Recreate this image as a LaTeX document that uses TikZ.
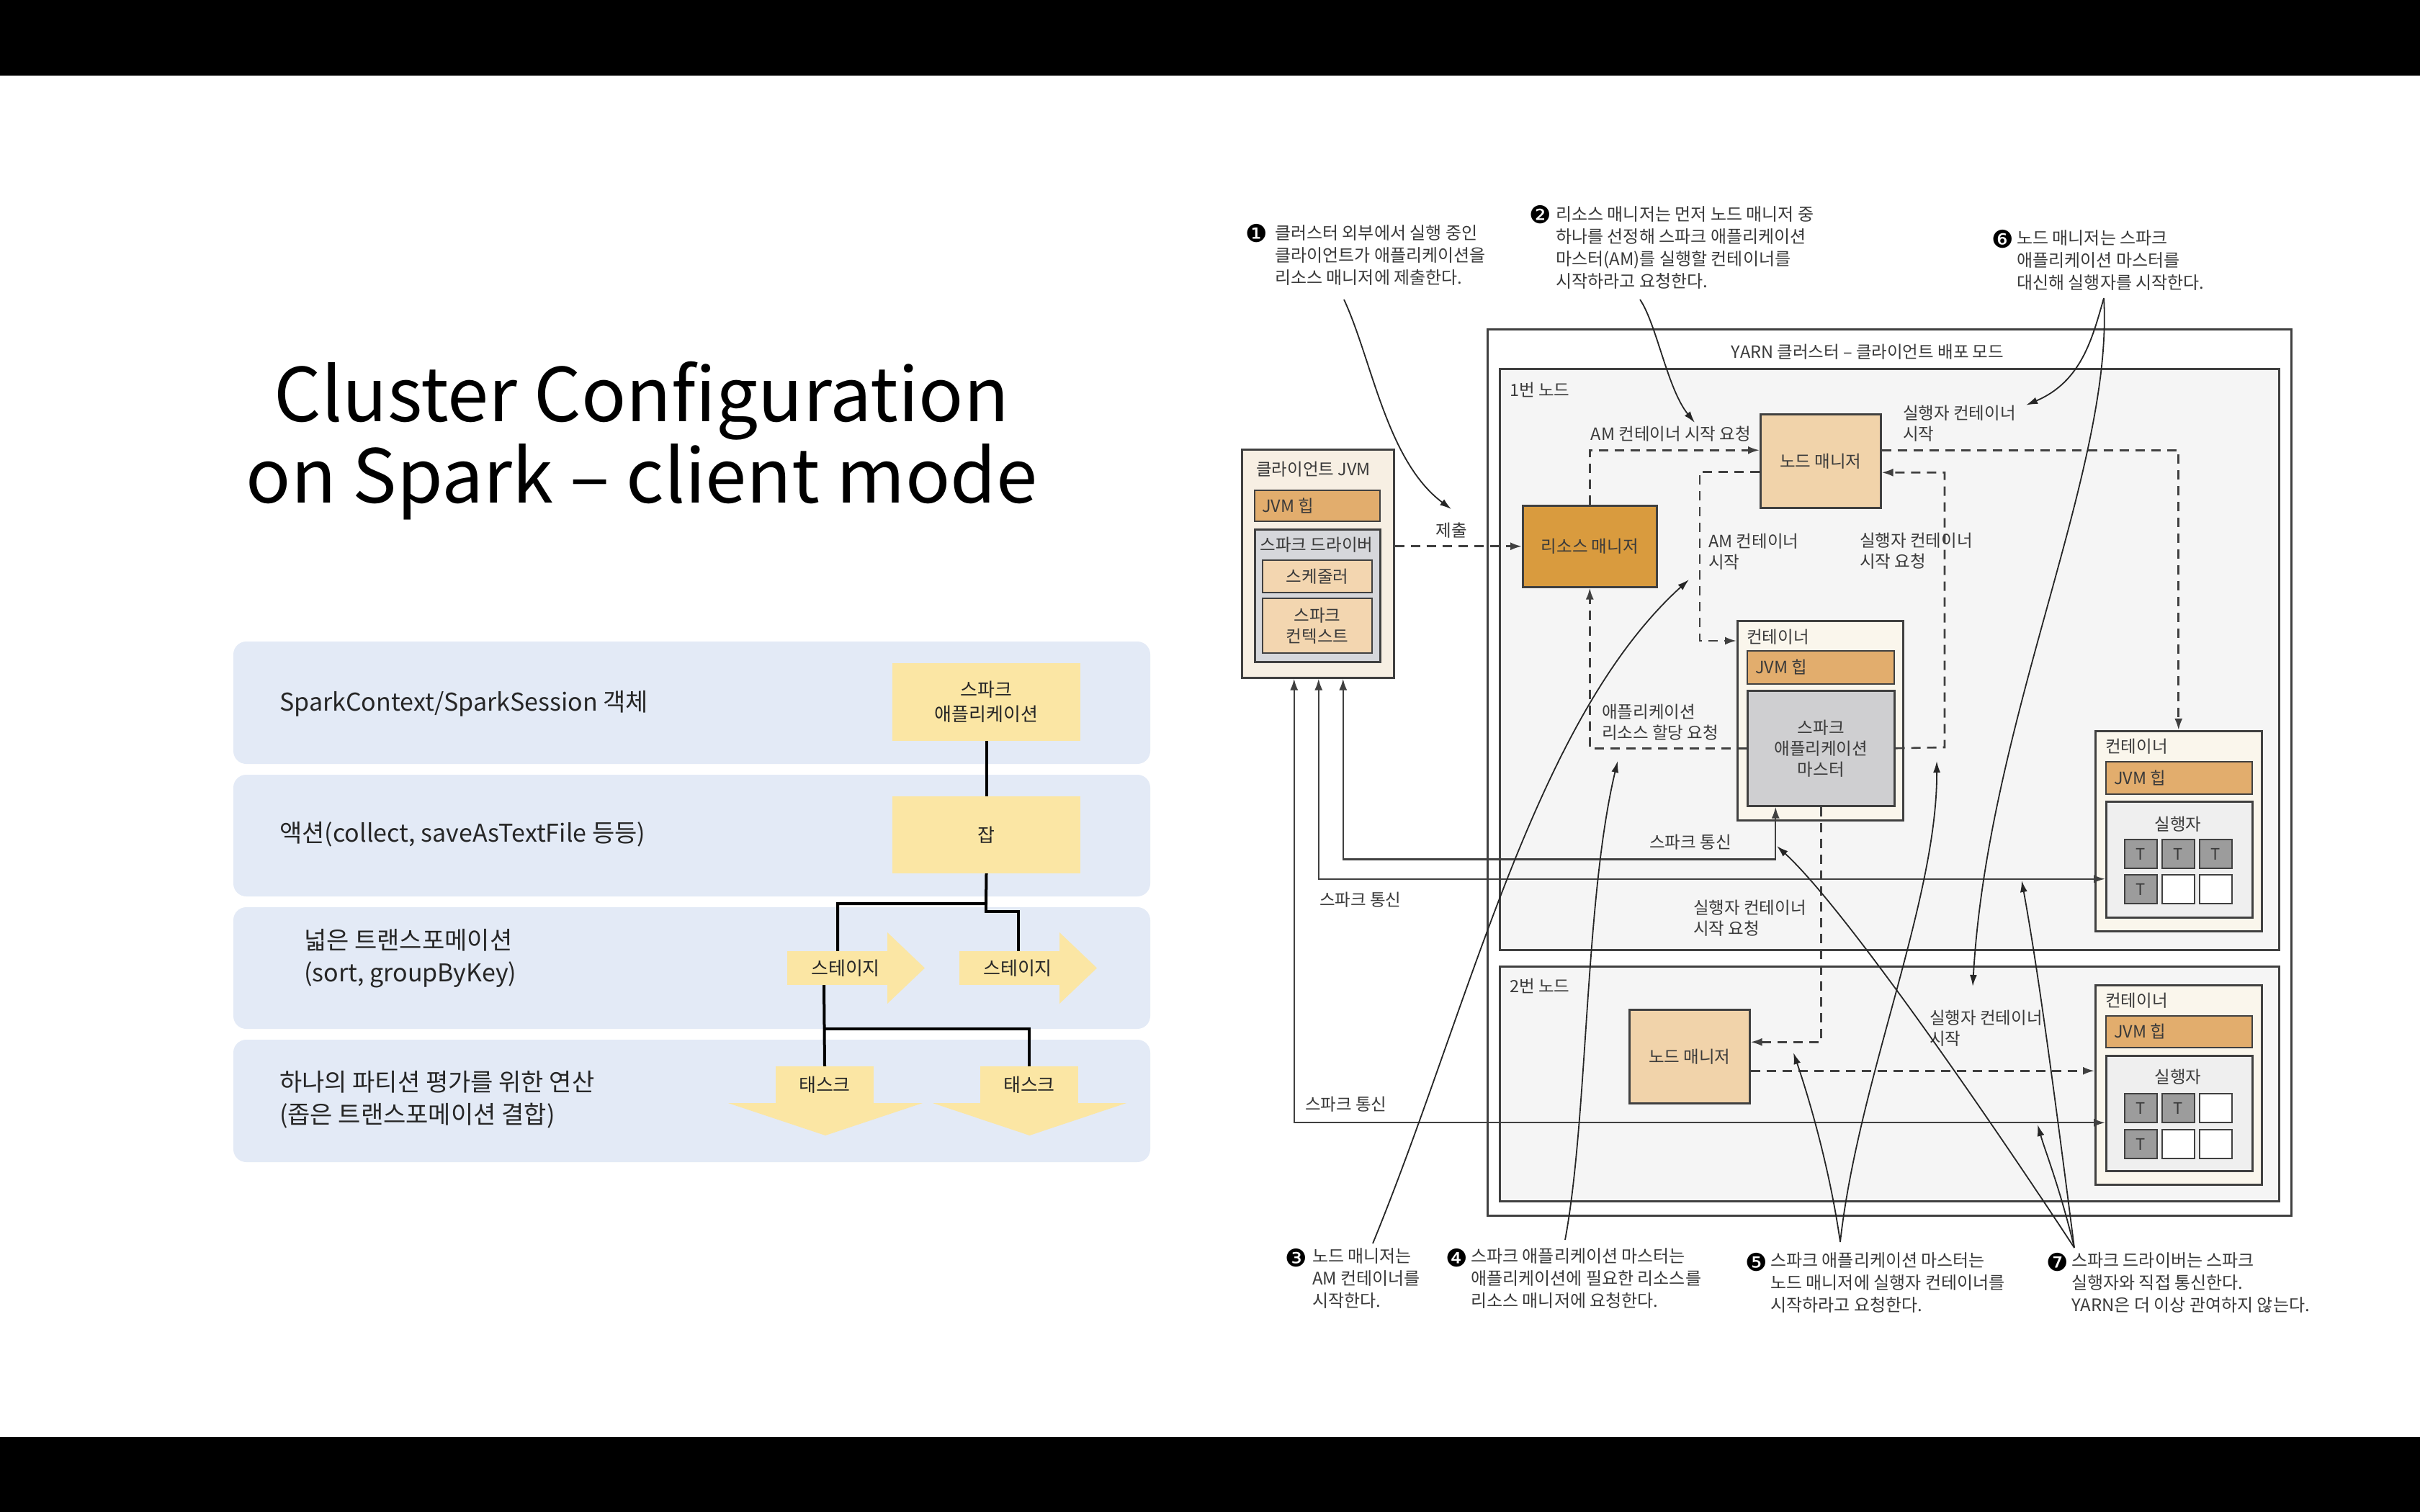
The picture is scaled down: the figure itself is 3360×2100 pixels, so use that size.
\documentclass[tikz,border=0pt]{standalone}
\usepackage{fontspec}
\setmainfont{Noto Sans CJK KR}
\newfontfamily\symf{DejaVu Sans}
\usetikzlibrary{arrows.meta,calc}
\definecolor{rowc}{HTML}{E3EAF6}
\definecolor{ylw}{HTML}{FBE6A4}
\definecolor{heap}{HTML}{E2AD6D}
\definecolor{rmc}{HTML}{D99B3E}
\definecolor{nmc}{HTML}{F1D3AA}
\definecolor{peach}{HTML}{F3D6B0}
\definecolor{drv}{HTML}{D6D7DB}
\definecolor{amg}{HTML}{CFCFD1}
\definecolor{cli}{HTML}{F7EFE3}
\definecolor{cont}{HTML}{FAF6EC}
\definecolor{exe}{HTML}{EFEFEF}
\definecolor{tcell}{HTML}{9C9C9C}
\definecolor{nodebg}{HTML}{F5F5F5}
\definecolor{dg}{HTML}{404040}
\definecolor{txt}{HTML}{3A3A3A}
\newcommand\dgfont{\fontsize{23.5}{29}\selectfont}
\newcommand\anfont{\fontsize{24}{31}\selectfont}
\newcommand\rowfont{\fontsize{34}{45}\selectfont}
\newcommand\flfont{\fontsize{26}{34}\selectfont}
\tikzset{
  bx/.style={draw=dg, line width=2.5pt, anchor=north west, inner sep=0pt, text=txt, font=\dgfont, align=center},
  lbl/.style={text=txt, font=\dgfont, inner sep=0pt, align=left},
  dsh/.style={draw=dg, line width=2.6pt, dash pattern=on 13pt off 9pt},
  sol/.style={draw=dg, line width=2.4pt},
  tip/.style={-{Latex[length=16pt,width=11pt]}},
  dtip/.style={{Latex[length=16pt,width=11pt]}-{Latex[length=16pt,width=11pt]}},
  ann/.style={draw=black!85, line width=1.8pt, -{Latex[length=16pt,width=10pt]}},
  anntxt/.style={text=txt, font=\anfont, inner sep=0pt, align=left, anchor=west},
  bul/.style={font=\symf\fontsize{34}{34}\selectfont, text=black, inner sep=0pt},
  rowtxt/.style={font=\rowfont, text=black!85, inner sep=0pt, anchor=west, align=left},
  flow/.style={fill=ylw, inner sep=0pt, font=\flfont, text=black!85, align=center},
  tl/.style={draw=black, line width=4pt},
  tc/.style={draw=dg, line width=2pt, fill=tcell, minimum width=45pt, minimum height=40pt, anchor=north west, inner sep=0pt, font=\fontsize{22}{22}\selectfont, text=txt},
  te/.style={draw=dg, line width=2pt, fill=white, minimum width=45pt, minimum height=40pt, anchor=north west, inner sep=0pt}
}
\begin{document}
\begin{tikzpicture}[x=1pt,y=-1pt]
\useasboundingbox (0,0) rectangle (3360,2100);
\fill[white] (0,0) rectangle (3360,2100);
\fill[black] (0,0) rectangle (3360,105);
\fill[black] (0,1996) rectangle (3360,2100);

% title
\node[font=\fontsize{103}{113}\selectfont, align=center, inner sep=0pt] (title) at (891,612) {Cluster Configuration\\on Spark – client mode};

% left table rows
\fill[rowc, rounded corners=18pt] (324,891) rectangle (1597,1061);
\fill[rowc, rounded corners=18pt] (324,1076) rectangle (1597,1245);
\fill[rowc, rounded corners=18pt] (324,1260) rectangle (1597,1429);
\fill[rowc, rounded corners=18pt] (324,1444) rectangle (1597,1614);
\node[rowtxt] (r1) at (388,977) {SparkContext/SparkSession 객체};
\node[rowtxt] (r2) at (388,1159) {액션(collect, saveAsTextFile 등등)};
\node[rowtxt] (r3) at (422,1331) {넓은 트랜스포메이션\\(sort, groupByKey)};
\node[rowtxt] (r4) at (388,1527) {하나의 파티션 평가를 위한 연산\\(좁은 트랜스포메이션 결합)};

\node[flow, minimum width=261pt, minimum height=108pt] (sa) at (1369.5,975) {스파크\\애플리케이션};
\node[flow, minimum width=261pt, minimum height=107pt] (job) at (1369.5,1159.5) {잡};
\fill[ylw] (1232,1295) -- (1284,1344.5) -- (1232,1394) -- cycle;
\fill[ylw] (1471,1295) -- (1523,1344.5) -- (1471,1394) -- cycle;
\node[flow, minimum width=140pt, minimum height=47pt] (st1) at (1163,1344.5) {\hspace*{22pt}스테이지};
\node[flow, minimum width=140pt, minimum height=47pt] (st2) at (1402,1344.5) {\hspace*{22pt}스테이지};
\fill[ylw] (1011,1532) -- (1281,1532) -- (1146,1577) -- cycle;
\fill[ylw] (1295,1532) -- (1564,1532) -- (1429.5,1577) -- cycle;
\node[flow, minimum width=136pt, minimum height=52pt] (tk1) at (1145,1507) {태스크};
\node[flow, minimum width=136pt, minimum height=52pt] (tk2) at (1429,1507) {태스크};
\coordinate (jb) at (1369,1255);
\draw[tl] (sa.south) -- (job.north);
\draw[tl] (job.south) -- (jb) -| (st1.north);
\draw[tl] (jb) |- ([xshift=12pt,yshift=55pt]st2.north) -- ([xshift=12pt]st2.north);
\draw[tl] ([xshift=-19pt]st1.south) -- (tk1.north);
\draw[tl] ([yshift=52pt]tk1.north) -| (tk2.north);

% ---------------- right diagram ----------------
\node[bx, fill=white, line width=3pt, minimum width=1116pt, minimum height=1231pt] (yarn) at (2064,456) {};
\node[lbl] (yarnt) at (2593,489) {YARN 클러스터 – 클라이언트 배포 모드};
\node[bx, fill=nodebg, minimum width=1082pt, minimum height=807pt] (node1) at (2081,511) {};
\node[bx, fill=nodebg, minimum width=1082pt, minimum height=326pt] (node2) at (2081,1341) {};
\node[lbl, anchor=west] (n1t) at (2096,541) {1번 노드};
\node[lbl, anchor=west] (n2t) at (2096,1369) {2번 노드};

% client JVM
\node[bx, fill=cli, minimum width=211pt, minimum height=317pt] (client) at (1723,623) {};
\node[lbl, anchor=west] (clit) at (1744,652) {클라이언트 JVM};
\node[bx, fill=heap, line width=2pt, minimum width=174pt, minimum height=43pt] (cheap) at (1741,680) {};
\node[lbl, anchor=west] (cheapt) at (1752,702) {JVM 힙};
\node[bx, fill=drv, minimum width=174pt, minimum height=184pt] (driver) at (1741,734) {};
\node[lbl] (drvt) at (1828,757) {스파크 드라이버};
\node[bx, fill=peach, line width=2pt, minimum width=152pt, minimum height=45pt] (sched) at (1752,777) {스케줄러};
\node[bx, fill=peach, line width=2pt, minimum width=152pt, minimum height=76pt] (sctx) at (1752,830) {스파크\\컨텍스트};

% node 1
\node[bx, fill=rmc, minimum width=186pt, minimum height=113pt] (rm) at (2113,701) {리소스 매니저};
\node[bx, fill=nmc, minimum width=167pt, minimum height=130pt] (nm1) at (2443,574) {노드 매니저};
\node[bx, fill=cont, minimum width=230pt, minimum height=277pt] (amc) at (2411,861) {};
\node[lbl, anchor=west] (amct) at (2425,885) {컨테이너};
\node[bx, fill=heap, line width=2pt, minimum width=204pt, minimum height=46pt] (amheap) at (2425,903) {};
\node[lbl, anchor=west] (amheapt) at (2437,926) {JVM 힙};
\node[bx, fill=amg, minimum width=204pt, minimum height=160pt] (am) at (2425,958) {스파크\\애플리케이션\\마스터};

\node[bx, fill=cont, minimum width=231pt, minimum height=278pt] (c1) at (2908,1014) {};
\node[lbl, anchor=west] (c1t) at (2923,1037) {컨테이너};
\node[bx, fill=heap, line width=2pt, minimum width=203pt, minimum height=45pt] (c1heap) at (2923,1057) {};
\node[lbl, anchor=west] (c1heapt) at (2935,1080) {JVM 힙};
\node[bx, fill=exe, minimum width=203pt, minimum height=161pt] (ex1) at (2923,1112) {};
\node[lbl] (ex1t) at (3024,1145) {실행자};
\node[tc] (t11) at (2949,1165) {T};
\node[tc] (t12) at (3001,1165) {T};
\node[tc] (t13) at (3053,1165) {T};
\node[tc] (t14) at (2949,1214) {T};
\node[te] (t15) at (3001,1214) {};
\node[te] (t16) at (3053,1214) {};

% node 2
\node[bx, fill=nmc, minimum width=167pt, minimum height=130pt] (nm2) at (2261,1401) {노드 매니저};
\node[bx, fill=cont, minimum width=231pt, minimum height=277pt] (c2) at (2908,1367) {};
\node[lbl, anchor=west] (c2t) at (2923,1390) {컨테이너};
\node[bx, fill=heap, line width=2pt, minimum width=203pt, minimum height=44pt] (c2heap) at (2923,1410) {};
\node[lbl, anchor=west] (c2heapt) at (2935,1432) {JVM 힙};
\node[bx, fill=exe, minimum width=203pt, minimum height=160pt] (ex2) at (2923,1465) {};
\node[lbl] (ex2t) at (3024,1496) {실행자};
\node[tc] (t21) at (2949,1518) {T};
\node[tc] (t22) at (3001,1518) {T};
\node[te] (t23) at (3053,1518) {};
\node[tc] (t24) at (2949,1568) {T};
\node[te] (t25) at (3001,1568) {};
\node[te] (t26) at (3053,1568) {};

% connector labels
\node[lbl] (l0) at (2015,737) {제출};
\node[lbl] (l1) at (2320,603) {AM 컨테이너 시작 요청};
\node[lbl, anchor=west] (l2) at (2642,588) {실행자 컨테이너\\시작};
\node[lbl, anchor=west] (l3) at (2372,766) {AM 컨테이너\\시작};
\node[lbl, anchor=west] (l4) at (2582,765) {실행자 컨테이너\\시작 요청};
\node[lbl, anchor=west] (l5) at (2224,1003) {애플리케이션\\리소스 할당 요청};
\node[lbl, anchor=west] (l6) at (2351,1275) {실행자 컨테이너\\시작 요청};
\node[lbl, anchor=west] (l7) at (2679,1428) {실행자 컨테이너\\시작};
\node[lbl] (s1) at (2347,1170) {스파크 통신};
\node[lbl, anchor=west] (s2) at (1832,1250) {스파크 통신};
\node[lbl, anchor=west] (s3) at (1812,1534) {스파크 통신};

% dashed connectors
\coordinate (b1) at (2360,890);
\coordinate (b2) at (2700,1038);
\coordinate (nm2e) at ([yshift=-20pt]nm2.east);
\draw[dsh, tip] (client.east |- rm.west) -- (rm.west);
\draw[dsh, tip] (rm.north) |- ([yshift=15pt]nm1.west);
\draw[dsh, tip] ([yshift=-15pt]nm1.west) -| (b1) -- (amc.west |- b1);
\draw[dsh, tip] ([yshift=15pt]nm1.east) -| (c1.north);
\draw[dsh, tip] (am.east) -- (b2) |- ([yshift=-16pt]nm1.east);
\draw[dsh, tip] (am.west) -| (rm.south);
\draw[dsh, tip] (am.south) |- ([yshift=20pt]nm2.east);
\draw[dsh, tip] (nm2e) -- (c2.west |- nm2e);

% spark communication
\draw[sol, dtip] ([xshift=35pt]client.south) |- ([xshift=-63pt,yshift=-73pt]am.south) -- ([xshift=-63pt]am.south);
\draw[sol, dtip] ([xshift=1pt]client.south) |- ([yshift=-27pt]ex1.west);
\draw[sol, dtip] ([xshift=-33pt]client.south) |- ([yshift=-13pt]ex2.west);

% annotations
\node[bul] (bu1) at (1745,324) {❶};
\node[anntxt] (an1) at (1770,355) {클러스터 외부에서 실행 중인\\클라이언트가 애플리케이션을\\리소스 매니저에 제출한다.};
\node[bul] (bu2) at (2139,298) {❷};
\node[anntxt] (an2) at (2160,344) {리소스 매니저는 먼저 노드 매니저 중\\하나를 선정해 스파크 애플리케이션\\마스터(AM)를 실행할 컨테이너를\\시작하라고 요청한다.};
\node[bul] (bu6) at (2781,332) {❻};
\node[anntxt] (an6) at (2800,362) {노드 매니저는 스파크\\애플리케이션 마스터를\\대신해 실행자를 시작한다.};
\node[bul] (bu3) at (1800,1747) {❸};
\node[anntxt] (an3) at (1822,1776) {노드 매니저는\\AM 컨테이너를\\시작한다.};
\node[bul] (bu4) at (2023,1747) {❹};
\node[anntxt] (an4) at (2042,1776) {스파크 애플리케이션 마스터는\\애플리케이션에 필요한 리소스를\\리소스 매니저에 요청한다.};
\node[bul] (bu5) at (2439,1753) {❺};
\node[anntxt] (an5) at (2458,1782) {스파크 애플리케이션 마스터는\\노드 매니저에 실행자 컨테이너를\\시작하라고 요청한다.};
\node[bul] (bu7) at (2857,1753) {❼};
\node[anntxt] (an7) at (2876,1782) {스파크 드라이버는 스파크\\실행자와 직접 통신한다.\\YARN은 더 이상 관여하지 않는다.};

\coordinate (p1) at (1866,416);
\coordinate (p2) at (2277,416);
\coordinate (p6) at (2921,414);
\coordinate (p3) at (1906,1727);
\coordinate (p4) at (2173,1722);
\coordinate (p5) at (2555,1725);
\coordinate (p7) at (2880,1733);
\coordinate (e6b) at (2739,1370);
\draw[ann] (p1) .. controls (1905,500) and (1925,640) .. ([yshift=19pt]l0.north);
\draw[ann] (p2) .. controls (2300,450) and (2315,540) .. (2353,587);
\draw[ann] (p6) .. controls (2905,470) and (2890,530) .. ([xshift=14pt]l2.north east);
\draw[ann] (p6) .. controls (2935,650) and (2760,1000) .. (e6b);
\draw[ann] (p3) .. controls (2040,1400) and (2130,1000) .. (2345,805);
\draw[ann] (p4) .. controls (2205,1550) and (2200,1250) .. (2246,1057);
\draw[ann] (p5) .. controls (2540,1620) and (2510,1520) .. (2490,1462);
\draw[ann] (p5) .. controls (2580,1500) and (2690,1250) .. (2689,1057);
\draw[ann] (p7) .. controls (2760,1550) and (2560,1260) .. (2467,1175);
\draw[ann] (p7) .. controls (2850,1500) and (2830,1350) .. (2807,1223);
\draw[ann] (p7) .. controls (2860,1650) and (2840,1600) .. (2829,1562);
\end{tikzpicture}
\end{document}
